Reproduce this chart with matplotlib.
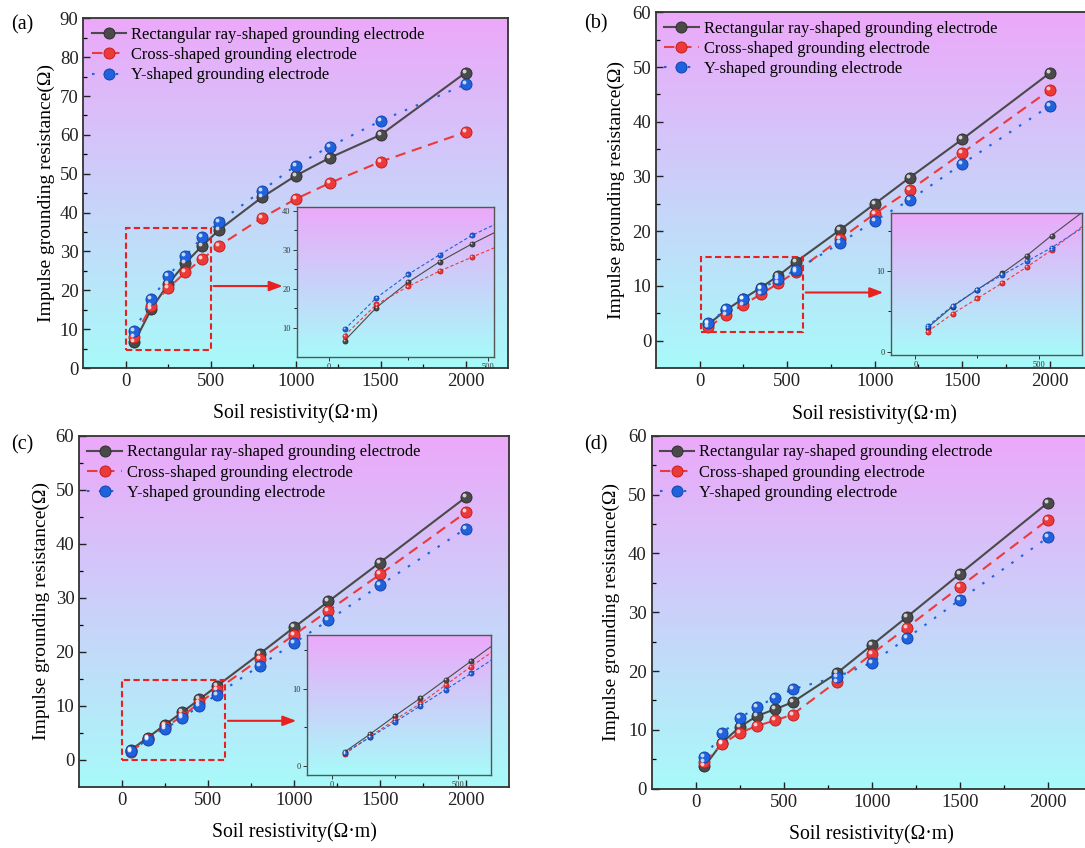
import numpy as np
import matplotlib
matplotlib.use("Agg")
import matplotlib.pyplot as plt
from matplotlib.patches import Rectangle
from matplotlib.transforms import offset_copy

plt.rcParams['font.family'] = ['Liberation Serif', 'DejaVu Serif']
plt.rcParams['mathtext.fontset'] = 'stix'

# soil resistivity (Ohm*m)
rho = [50, 150, 250, 350, 450, 550, 800, 1000, 1200, 1500, 2000]

# impulse grounding resistance (Ohm), four cases
rect_a = [6.7, 15.2, 21.7, 27.0, 31.5, 35.6, 43.9, 49.5, 54.1, 60.0, 76.0]
cross_a = [8.0, 16.0, 20.6, 24.6, 28.1, 31.5, 38.6, 43.5, 47.6, 53.1, 60.7]
y_a = [9.6, 17.7, 23.7, 28.8, 33.7, 37.6, 45.6, 52.1, 57.0, 63.6, 73.0]

rect_b = [3.0, 5.6, 7.7, 9.7, 11.9, 14.4, 20.2, 25.0, 29.8, 36.8, 48.9]
cross_b = [2.5, 4.7, 6.6, 8.5, 10.5, 12.6, 18.5, 23.2, 27.5, 34.3, 45.8]
y_b = [3.2, 5.7, 7.7, 9.5, 11.2, 12.9, 17.8, 21.9, 25.7, 32.3, 42.9]

rect_c = [1.8, 4.1, 6.5, 8.8, 11.2, 13.6, 19.6, 24.5, 29.3, 36.5, 48.6]
cross_c = [1.5, 3.8, 6.0, 8.1, 10.5, 12.9, 18.6, 23.1, 27.6, 34.3, 45.8]
y_c = [1.7, 3.7, 5.7, 7.8, 9.9, 12.0, 17.4, 21.6, 25.8, 32.3, 42.8]

rect_d = [3.8, 7.8, 10.5, 12.4, 13.5, 14.7, 19.6, 24.4, 29.2, 36.5, 48.6]
cross_d = [4.5, 7.6, 9.5, 10.7, 11.6, 12.6, 18.2, 22.9, 27.4, 34.3, 45.7]
y_d = [5.4, 9.4, 12.0, 13.9, 15.5, 16.9, 19.0, 21.4, 25.6, 32.1, 42.7]

names = ['Rectangular ray-shaped grounding electrode',
         'Cross-shaped grounding electrode',
         'Y-shaped grounding electrode']
colors = ['#4a4a4a', '#ec3a3a', '#1f62dc']
edges = ['#2a2a2a', '#c01818', '#0e3fa8']
dashes = [None, (5, 3.2), (1.2, 4.5)]

top_col = np.array([236, 168, 249]) / 255
bot_col = np.array([168, 250, 250]) / 255
grad = np.linspace(0, 1, 256)[:, None, None]
grad_img = top_col * (1 - grad) + bot_col * grad

fig = plt.figure(figsize=(10.85, 8.48), dpi=100)


def background(ax):
    ax.imshow(grad_img, extent=[0, 1, 0, 1], transform=ax.transAxes,
              aspect='auto', zorder=0, interpolation='bilinear')


def draw_series(ax, x, ys, ms, lw, labels=True):
    for i, yv in enumerate(ys):
        ln, = ax.plot(x, yv, color=colors[i], lw=lw, marker='o', ms=ms,
                      mfc=colors[i], mec=edges[i], mew=0.6, zorder=3,
                      label=names[i] if labels else None)
        if dashes[i] is not None:
            ln.set_dashes(dashes[i])
        # glossy highlight on the balls
        hl = offset_copy(ax.transData, fig=fig, x=-ms * 0.18, y=ms * 0.18,
                         units='points')
        ax.plot(x, yv, ls='none', marker='o', ms=ms * 0.35, mfc='white',
                mec='none', alpha=0.75, transform=hl, zorder=4)


def style_main(ax, ylim, yticks):
    ax.set_xlim(-250, 2250)
    ax.set_ylim(*ylim)
    ax.set_xticks([0, 500, 1000, 1500, 2000])
    ax.set_xticks(np.arange(250, 2000, 500), minor=True)
    ax.set_yticks(yticks)
    ax.set_yticks(np.arange(yticks[0] + 5, yticks[-1], 10), minor=True)
    ax.tick_params(direction='in', labelsize=13.5, length=5, width=1.0,
                   colors='#222222')
    ax.tick_params(which='minor', direction='in', length=3, width=0.9)
    for sp in ax.spines.values():
        sp.set_color('#333333')
        sp.set_linewidth(1.3)
    ax.set_xlabel('Soil resistivity(Ω·m)', fontsize=14.2)
    ax.set_ylabel('Impulse grounding resistance(Ω)', fontsize=14)
    ax.legend(loc='upper left', bbox_to_anchor=(-0.008, 1.008), frameon=False,
              fontsize=11.9, handlelength=2.1, handletextpad=0.3,
              labelspacing=0.25, borderaxespad=0.3)


def style_inset(ax, xlim, ylim, yticks, yminor):
    background(ax)
    ax.set_xlim(*xlim)
    ax.set_ylim(*ylim)
    ax.set_xticks([0, 500])
    ax.set_xticks([250], minor=True)
    ax.set_yticks(yticks)
    ax.set_yticks(yminor, minor=True)
    ax.tick_params(direction='out', labelsize=6, length=3, width=0.7,
                   pad=1.5, colors='#333333')
    ax.tick_params(which='minor', direction='out', length=2, width=0.6)
    for sp in ax.spines.values():
        sp.set_color('#555555')
        sp.set_linewidth(1.0)


panels = [
    ('(a)', [0.0769, 0.566, 0.3913, 0.4124], (0, 90), np.arange(0, 91, 10),
     [rect_a, cross_a, y_a]),
    ('(b)', [0.6046, 0.566, 0.4032, 0.4195], (-5, 60), np.arange(0, 61, 10),
     [rect_b, cross_b, y_b]),
    ('(c)', [0.0730, 0.0723, 0.3959, 0.4139], (-5, 60), np.arange(0, 61, 10),
     [rect_c, cross_c, y_c]),
    ('(d)', [0.6006, 0.0699, 0.4057, 0.4163], (0, 60), np.arange(0, 61, 10),
     [rect_d, cross_d, y_d]),
]
label_pos = [(22, 25), (596, 24), (22, 445), (596, 445)]
ylab_x = [-0.066, -0.070, -0.069, -0.071]

axes = []
for k, (tag, rect, ylim, yt, ys) in enumerate(panels):
    ax = fig.add_axes(rect)
    background(ax)
    draw_series(ax, rho, ys, ms=8, lw=1.5)
    style_main(ax, ylim, yt)
    ax.yaxis.set_label_coords(ylab_x[k], 0.5)
    ax.xaxis.set_label_coords(0.5, -0.102)
    lx, ly = label_pos[k]
    fig.text(lx / 1085, 1 - ly / 848, tag, fontsize=14.5, ha='center',
             va='center')
    axes.append(ax)

# zoom boxes and arrows
zoom_boxes = [((0, 4.7), 500, 31.3, (500, 21.1), (940, 21.1)),
              ((10, 1.5), 580, 13.8, (590, 8.8), (1065, 8.8)),
              ((0, -0.1), 600, 14.8, (600, 7.2), (1030, 7.2))]
for ax, (xy, w, h, a0, a1) in zip(axes[:3], zoom_boxes):
    ax.add_patch(Rectangle(xy, w, h, fill=False, ec='#e82020', lw=1.5,
                           ls=(0, (3, 1.6)), zorder=5))
    ax.annotate('', xy=a1, xytext=a0,
                arrowprops=dict(arrowstyle='-|>,head_length=0.8,head_width=0.3',
                                color='#e82020', lw=1.5), zorder=5)

# insets
insets = [
    ([0.2737, 0.579, 0.1816, 0.1769], (-100, 520), (2.5, 41),
     [10, 20, 30, 40], [15, 25, 35], [rect_a, cross_a, y_a]),
    ([0.8209, 0.5814, 0.1763, 0.1675], (-100, 673), (-0.4, 17.2),
     [0, 10], [5, 15], [rect_b, cross_b, y_b]),
    ([0.2827, 0.0861, 0.1696, 0.1651], (-100, 628), (-1.2, 17),
     [0, 10], [5, 15], [rect_c, cross_c, y_c]),
]
for rect, xl, yl, yt, ym, ys in insets:
    ins = fig.add_axes(rect)
    draw_series(ins, rho, ys, ms=3.6, lw=0.8, labels=False)
    style_inset(ins, xl, yl, yt, ym)
    for ln in ins.lines:
        if ln.get_linestyle() == '--':
            ln.set_dashes((3, 2))

fig.savefig('out.png', dpi=100)
